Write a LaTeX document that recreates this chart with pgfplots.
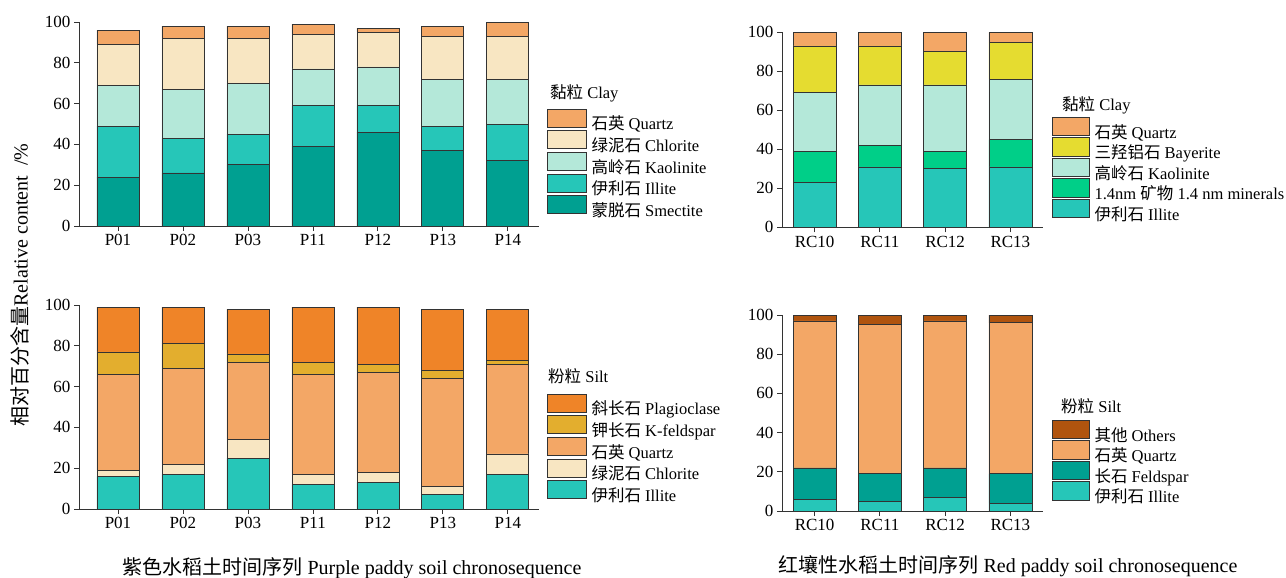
\documentclass[border=0pt]{standalone}
\usepackage{fontspec}
\setmainfont{Liberation Serif}
\newfontfamily\cjk{Noto Sans CJK SC}
\usepackage{pgfplots}
\usepackage{pgfplotstable}
\pgfplotsset{compat=1.18}

\definecolor{cSm}{HTML}{00A091}
\definecolor{cIl}{HTML}{26C6B8}
\definecolor{cKa}{HTML}{B4E8D9}
\definecolor{cCh}{HTML}{F8E6C2}
\definecolor{cQz}{HTML}{F3A766}
\definecolor{cKf}{HTML}{E3AE2E}
\definecolor{cPl}{HTML}{EF8428}
\definecolor{cBy}{HTML}{E5DC30}
\definecolor{cNm}{HTML}{00CF88}
\definecolor{cOt}{HTML}{B0540E}
\definecolor{cFe}{HTML}{00A091}

\pgfplotstableread{
x sm il ka ch qz
0 24 25 20 20 7
1 26 17 24 25 6
2 30 15 25 22 6
3 39 20 18 17 5
4 46 13 19 17 2
5 37 12 23 21 5
6 32 18 22 21 7
}\PClay
\pgfplotstableread{
x il ch qz kf pl
0 16 3 47 11 22
1 17 5 47 12 18
2 25 9 38 4 22
3 12 5 49 6 27
4 13 5 49 4 28
5 7 4 53 4 30
6 17 10 44 2 25
}\PSilt
\pgfplotstableread{
x il nm ka by qz
0 23 16 30 24 7
1 31 11 31 20 7
2 30 9 34 17 10
3 31 14 31 19 5
}\RClay
\pgfplotstableread{
x il fe qz ot
0 6 16 75 3
1 5 14 76 5
2 7 15 75 3
3 4 15 77 4
}\RSilt

\newcommand{\tickfont}{\fontsize{17}{17}\selectfont}
\newcommand{\legfont}{\fontsize{16.5}{16.5}\selectfont}
\newcommand{\labfont}{\fontsize{20}{20}\selectfont}

\pgfplotsset{
  base/.style={
    scale only axis,
    axis lines=left,
    axis line style={-, draw=black!80, line width=0.8pt},
    ymin=0, ymax=100, ytick={0,20,...,100},
    ybar stacked,
    tick align=outside,
    major tick length=5pt,
    tick style={draw=black!80, line width=0.8pt},
    tick label style={font=\tickfont},
    /pgf/number format/assume math mode=true,
    clip=false,
    reverse legend,
    legend cell align=left,
    legend style={draw=none, fill=none, inner sep=0pt, outer sep=0pt,
      row sep=-1pt, column sep=5pt, anchor=north west,
      nodes={inner sep=0pt, font=\legfont}},
  },
  boxA/.style={draw=black!80, line width=0.7pt,
    legend image code/.code={\draw[##1, draw=black!80, line width=0.7pt] (0pt,-3.5pt) rectangle (39pt,14.5pt);}},
  boxB/.style={draw=black!80, line width=0.7pt,
    legend image code/.code={\draw[##1, draw=black!80, line width=0.7pt] (0pt,-3.5pt) rectangle (37pt,15pt);}},
}

\begin{document}
\begin{tikzpicture}
\useasboundingbox (0,0) rectangle (1286pt,-578pt);

% Panel A: purple clay
\begin{axis}[base, at={(79pt,-226pt)}, anchor=south west,
  width=460pt, height=204pt, xmin=-0.6, xmax=6.48,
  xtick={0,...,6}, xticklabels={P01,P02,P03,P11,P12,P13,P14},
  bar width=42pt,
  legend style={at={(1.017,0.574)}}]
\addplot[boxA, fill=cSm] table[x=x,y=sm]{\PClay};
\addplot[boxA, fill=cIl] table[x=x,y=il]{\PClay};
\addplot[boxA, fill=cKa] table[x=x,y=ka]{\PClay};
\addplot[boxA, fill=cCh] table[x=x,y=ch]{\PClay};
\addplot[boxA, fill=cQz] table[x=x,y=qz]{\PClay};
\legend{{\cjk 蒙脱石} Smectite,{\cjk 伊利石} Illite,{\cjk 高岭石} Kaolinite,{\cjk 绿泥石} Chlorite,{\cjk 石英} Quartz}
\end{axis}

% Panel C: purple silt
\begin{axis}[base, at={(79pt,-509pt)}, anchor=south west,
  width=460pt, height=204pt, xmin=-0.6, xmax=6.48,
  xtick={0,...,6}, xticklabels={P01,P02,P03,P11,P12,P13,P14},
  bar width=42pt,
  legend style={at={(1.017,0.564)}}]
\addplot[boxA, fill=cIl] table[x=x,y=il]{\PSilt};
\addplot[boxA, fill=cCh] table[x=x,y=ch]{\PSilt};
\addplot[boxA, fill=cQz] table[x=x,y=qz]{\PSilt};
\addplot[boxA, fill=cKf] table[x=x,y=kf]{\PSilt};
\addplot[boxA, fill=cPl] table[x=x,y=pl]{\PSilt};
\legend{{\cjk 伊利石} Illite,{\cjk 绿泥石} Chlorite,{\cjk 石英} Quartz,{\cjk 钾长石} K-feldspar,{\cjk 斜长石} Plagioclase}
\end{axis}

% Panel B: red clay
\begin{axis}[base, at={(782pt,-227.3pt)}, anchor=south west,
  width=261pt, height=195pt, xmin=-0.5, xmax=3.5,
  xtick={0,...,3}, xticklabels={RC10,RC11,RC12,RC13},
  bar width=43pt,
  legend style={at={(1.034,0.567)}, row sep=-2.5pt}]
\addplot[boxB, fill=cIl] table[x=x,y=il]{\RClay};
\addplot[boxB, fill=cNm] table[x=x,y=nm]{\RClay};
\addplot[boxB, fill=cKa] table[x=x,y=ka]{\RClay};
\addplot[boxB, fill=cBy] table[x=x,y=by]{\RClay};
\addplot[boxB, fill=cQz] table[x=x,y=qz]{\RClay};
\legend{{\cjk 伊利石} Illite,1.4nm {\cjk 矿物} 1.4 nm minerals,{\cjk 高岭石} Kaolinite,{\cjk 三羟铝石} Bayerite,{\cjk 石英} Quartz}
\end{axis}

% Panel D: red silt
\begin{axis}[base, at={(782pt,-511pt)}, anchor=south west,
  width=261pt, height=196pt, xmin=-0.5, xmax=3.5,
  xtick={0,...,3}, xticklabels={RC10,RC11,RC12,RC13},
  bar width=43pt,
  legend style={at={(1.034,0.465)}, row sep=-2.5pt}]
\addplot[boxB, fill=cIl] table[x=x,y=il]{\RSilt};
\addplot[boxB, fill=cFe] table[x=x,y=fe]{\RSilt};
\addplot[boxB, fill=cQz] table[x=x,y=qz]{\RSilt};
\addplot[boxB, fill=cOt] table[x=x,y=ot]{\RSilt};
\legend{{\cjk 伊利石} Illite,{\cjk 长石} Feldspar,{\cjk 石英} Quartz,{\cjk 其他} Others}
\end{axis}

% legend titles
\node[anchor=west, font=\legfont, inner sep=0pt] at (550pt,-93pt) {{\cjk 黏粒} Clay};
\node[anchor=west, font=\legfont, inner sep=0pt] at (548pt,-376pt) {{\cjk 粉粒} Silt};
\node[anchor=west, font=\legfont, inner sep=0pt] at (1062pt,-105pt) {{\cjk 黏粒} Clay};
\node[anchor=west, font=\legfont, inner sep=0pt] at (1061pt,-406pt) {{\cjk 粉粒} Silt};

% axis titles
\node[rotate=90, font=\labfont, inner sep=0pt] at (20pt,-285pt) {{\cjk 相对百分含量}Relative content \ /\%};
\node[font=\labfont, inner sep=0pt] at (352pt,-568pt) {{\cjk 紫色水稻土时间序列} Purple paddy soil chronosequence};
\node[font=\labfont, inner sep=0pt] at (1008pt,-566pt) {{\cjk 红壤性水稻土时间序列} Red paddy soil chronosequence};
\end{tikzpicture}
\end{document}
